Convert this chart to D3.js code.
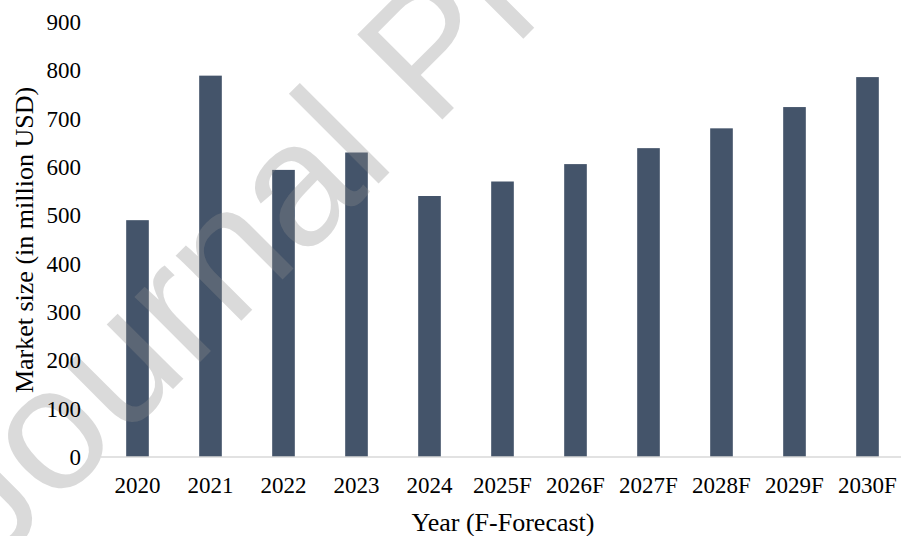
<!DOCTYPE html>
<html>
<head>
<meta charset="utf-8">
<script src="https://cdn.jsdelivr.net/npm/d3@7"></script>
<style>
  html, body { margin: 0; padding: 0; background: #fff; }
  svg { display: block; }
</style>
</head>
<body>
<svg id="chart" width="901" height="536"></svg>
<script>
// Market size by year, actuals 2020-2024 and forecasts 2025F-2030F
const years = ["2020", "2021", "2022", "2023", "2024", "2025F", "2026F", "2027F", "2028F", "2029F", "2030F"];
const marketSize = [490, 789, 594, 630, 540, 570, 606, 639, 680, 724, 786];
const yTicks = [0, 100, 200, 300, 400, 500, 600, 700, 800, 900];

const serif = "'Liberation Serif', 'Times New Roman', Times, serif";
const svg = d3.select("#chart");

const x = d3.scaleBand()
  .domain(years)
  .range([101, 904])
  .paddingInner(0.69)
  .paddingOuter(0.345);

const y = d3.scaleLinear()
  .domain([0, 900])
  .range([457, 22]);

// bars
svg.append("g")
  .selectAll("rect")
  .data(years.map((yr, i) => ({ yr, v: marketSize[i] })))
  .join("rect")
  .attr("x", d => x(d.yr))
  .attr("width", x.bandwidth())
  .attr("y", d => y(d.v))
  .attr("height", d => y(0) - y(d.v))
  .attr("fill", "#44546A");

// diagonal watermark, over the bars but under the labels
svg.append("text")
  .attr("transform", "translate(-8,570) rotate(-45)")
  .style("font-family", "'Liberation Sans', Arial, sans-serif")
  .style("font-size", "175px")
  .attr("fill", "#8c8c8c")
  .attr("fill-opacity", 0.32)
  .text("Journal Pre-proof");

// category axis baseline
svg.append("line")
  .attr("x1", 101).attr("x2", 901)
  .attr("y1", y(0)).attr("y2", y(0))
  .attr("stroke", "#d9d9d9")
  .attr("stroke-width", 1.5);

// y axis labels
const yAxis = svg.append("g")
  .attr("transform", "translate(81,0)")
  .call(d3.axisLeft(y).tickValues(yTicks).tickSize(0).tickPadding(0));
yAxis.select(".domain").remove();
yAxis.selectAll("text")
  .style("font-family", serif)
  .style("font-size", "23px")
  .attr("fill", "#000");

// x axis labels
const xAxis = svg.append("g")
  .attr("transform", `translate(0,${y(0)})`)
  .call(d3.axisBottom(x).tickSize(0).tickPadding(20));
xAxis.select(".domain").remove();
xAxis.selectAll("text")
  .style("font-family", serif)
  .style("font-size", "23px")
  .attr("fill", "#000");

// axis titles
svg.append("text")
  .attr("x", 503)
  .attr("y", 531)
  .attr("text-anchor", "middle")
  .style("font-family", serif)
  .style("font-size", "26px")
  .attr("fill", "#000")
  .text("Year (F-Forecast)");

svg.append("text")
  .attr("transform", "translate(33,240) rotate(-90)")
  .attr("text-anchor", "middle")
  .style("font-family", serif)
  .style("font-size", "26px")
  .attr("fill", "#000")
  .text("Market size (in million USD)");
</script>
</body>
</html>
